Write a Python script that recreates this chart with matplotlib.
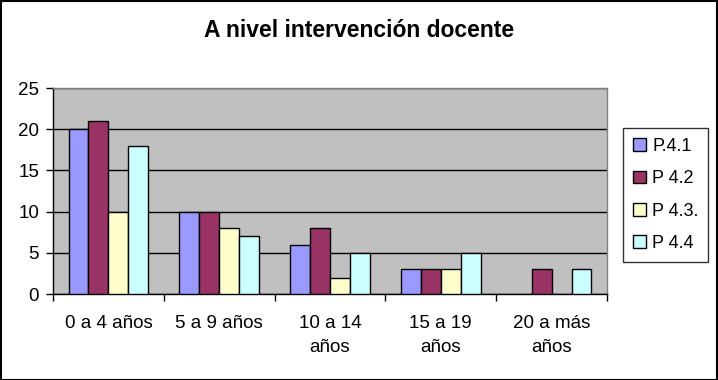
import numpy as np
import matplotlib.pyplot as plt
from matplotlib.patches import Rectangle

plt.rcParams['font.family'] = ['Liberation Sans', 'DejaVu Sans']

# Data
categories = ['0 a 4 años', '5 a 9 años', '10 a 14\naños', '15 a 19\naños', '20 a más\naños']
series_names = ['P.4.1', 'P 4.2', 'P 4.3.', 'P 4.4']
p41 = [20, 10, 6, 3, 0]
p42 = [21, 10, 8, 3, 3]
p43 = [10, 8, 2, 3, 0]
p44 = [18, 7, 5, 5, 3]
colors = ['#9999FF', '#993366', '#FFFFCC', '#CCFFFF']

fig = plt.figure(figsize=(7.18, 3.80), dpi=100)
ax = fig.add_axes([0.0738, 0.2263, 0.7716, 0.5421])
ax.set_facecolor('#C0C0C0')

x = np.arange(len(categories))
width = 0.18
for i, (vals, name, c) in enumerate(zip([p41, p42, p43, p44], series_names, colors)):
    pos = x + (i - 1.5) * width
    v = np.array(vals, dtype=float)
    mask = v > 0
    ax.bar(pos[mask], v[mask], width=width, color=c, edgecolor='black',
           linewidth=1, zorder=3, label=name)

ax.set_xlim(-0.5, len(categories) - 0.5)
ax.set_ylim(0, 25)
ax.set_yticks([0, 5, 10, 15, 20, 25])
ax.yaxis.grid(True, color='black', linewidth=1, zorder=1)
ax.set_axisbelow(True)

# category labels between boundary ticks
ax.set_xticks(np.arange(-0.5, len(categories)), minor=False)
ax.set_xticklabels([])
ax.set_xticks(x, minor=True)
ax.set_xticklabels(categories, minor=True, fontsize=13.5, linespacing=1.55)
ax.tick_params(axis='x', which='minor', length=0, pad=15)
ax.tick_params(axis='x', which='major', length=5, width=1, direction='out')
ax.tick_params(axis='y', length=5, width=1, direction='out', labelsize=13.5, pad=5)

for s in ['left', 'bottom']:
    ax.spines[s].set_color('black')
    ax.spines[s].set_linewidth(1)
for s in ['top', 'right']:
    ax.spines[s].set_color('#808080')
    ax.spines[s].set_linewidth(1)

fig.text(0.5, 0.92, 'A nivel intervención docente', ha='center', va='center',
         fontsize=16.5, fontweight='bold')

leg = fig.legend(loc='upper left', bbox_to_anchor=(0.868, 0.663), fontsize=13,
                 frameon=True, fancybox=False, edgecolor='black',
                 handlelength=0.7, handleheight=0.7, handletextpad=0.35,
                 labelspacing=0.85, borderpad=0.55, borderaxespad=0)
leg.get_frame().set_linewidth(1)

# outer chart border
fig.patches.append(Rectangle((0.001, 0.001), 0.997, 0.996, transform=fig.transFigure,
                             fill=False, edgecolor='black', linewidth=1.5))

plt.savefig('out.png', dpi=100)
